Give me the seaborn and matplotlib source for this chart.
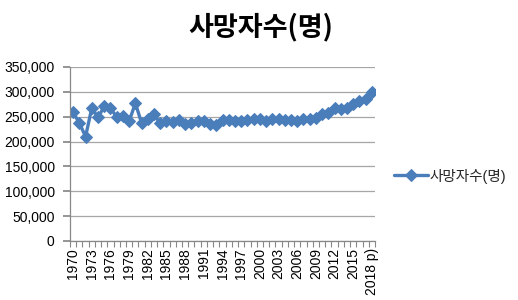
import matplotlib
matplotlib.use("Agg")
import matplotlib.pyplot as plt
import seaborn as sns
import pandas as pd
import numpy as np
from matplotlib.ticker import FuncFormatter, FixedLocator

years = [str(y) for y in range(1970, 2018)] + ["2018 p)"]
deaths = [258589, 237528, 210071, 267460, 248807, 270657, 266857, 249862, 251004, 240694,
          277284, 237481, 245767, 254563, 236445, 240418, 239256, 243504, 235599, 236818,
          241616, 242270, 236162, 234257, 242439, 242838, 241149, 241943, 243193, 245364,
          246163, 241521, 245317, 244506, 244217, 243883, 242266, 244874, 246113, 246942,
          255405, 257396, 267221, 266257, 267692, 275895, 280827, 285534, 298820]
series_name = "사망자수(명)"
title = "사망자수(명)"
yticks = [0, 50000, 100000, 150000, 200000, 250000, 300000, 350000]

sns.set_theme(style="white")
plt.rcParams['font.family'] = ['Liberation Sans', 'Noto Sans CJK KR', 'DejaVu Sans']

df = pd.DataFrame({"idx": np.arange(len(years)), "val": deaths})

fig = plt.figure(figsize=(5.18, 3.0), dpi=100)
ax = fig.add_axes([70/518, 1-241/300, (375-70)/518, (241-67)/300])
color = "#4A7EBB"
sns.lineplot(data=df, x="idx", y="val", ax=ax, color=color, linewidth=2.4,
             marker="D", markersize=6.5, markeredgecolor=color, label=series_name)

ax.set_xlim(-0.5, len(years) - 0.5)
ax.set_ylim(0, 350000)
ax.set_yticks(yticks)
ax.yaxis.set_major_formatter(FuncFormatter(lambda v, p: f"{int(v):,}"))
ax.grid(axis="y", color="#A6A6A6", linewidth=0.9)
ax.set_axisbelow(True)

major = list(range(0, len(years), 3))
ax.set_xticks(major)
ax.set_xticklabels([years[i] for i in major], rotation=90, fontsize=10)
ax.xaxis.set_minor_locator(FixedLocator(np.arange(-0.5, len(years), 1)))
ax.tick_params(axis="x", which="major", length=0, pad=5, colors="black")
ax.tick_params(axis="x", which="minor", length=4, color="#888888", width=0.8, direction="out", bottom=True)
ax.tick_params(axis="y", labelsize=10, length=5, color="#888888", left=True, direction="out",
               labelcolor="black", pad=6)
ax.set_xlabel("")
ax.set_ylabel("")
for s in ["top", "right"]:
    ax.spines[s].set_visible(False)
for s in ["left", "bottom"]:
    ax.spines[s].set_color("#888888")
    ax.spines[s].set_linewidth(0.9)

ax.legend_.remove()
handles, labels = ax.get_legend_handles_labels()
fig.legend(handles, labels, loc="center left", bbox_to_anchor=(381/518, 1-176/300),
           frameon=False, fontsize=10.5, handlelength=2.3, handletextpad=0.1)

fig.text(261/518, 1-27/300, title, ha="center", va="center", fontsize=19.5,
         fontweight="bold", color="black", family=['Noto Sans CJK KR', 'DejaVu Sans'])

fig.savefig("out.png", dpi=100, facecolor="white")
